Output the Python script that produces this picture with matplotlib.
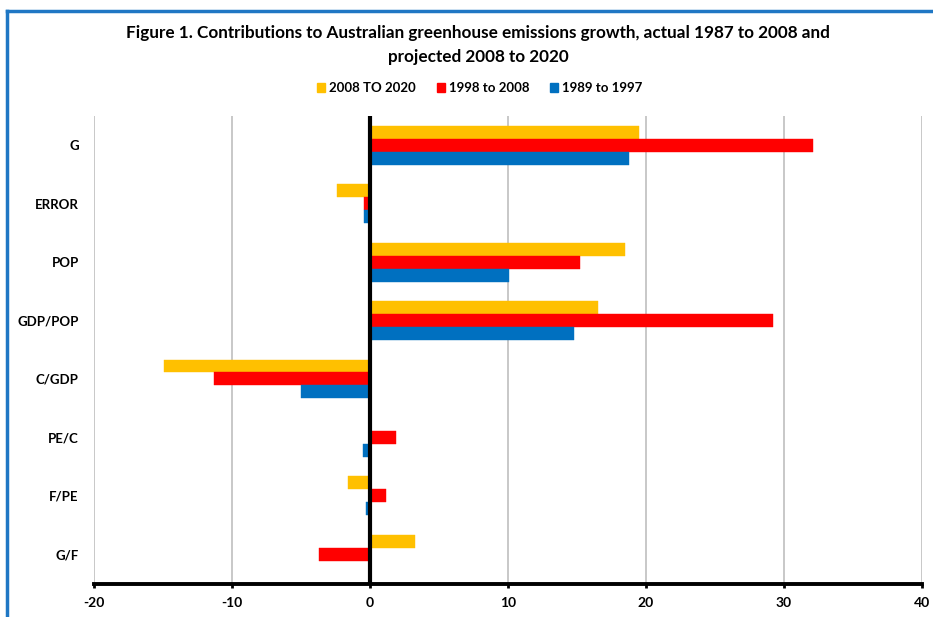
import matplotlib
matplotlib.use("Agg")
import matplotlib.pyplot as plt
from matplotlib.lines import Line2D
from matplotlib.patches import Patch
import numpy as np

categories = ["G", "ERROR", "POP", "GDP/POP", "C/GDP", "PE/C", "F/PE", "G/F"]
series_names = ["2008 TO 2020", "1998 to 2008", "1989 to 1997"]
s2008_2020 = [19.5, -2.4, 18.5, 16.5, -14.9, 0.0, -1.6, 3.3]
s1998_2008 = [32.1, -0.4, 15.2, 29.2, -11.3, 1.9, 1.2, -3.7]
s1989_1997 = [18.8, -0.4, 10.1, 14.8, -5.0, -0.5, -0.3, 0.0]
colors = ["#FFC000", "#FF0000", "#0070C0"]
xticks = [-20, -10, 0, 10, 20, 30, 40]

FONT = ["Lato", "DejaVu Sans"]
plt.rcParams['font.family'] = FONT

fig = plt.figure(figsize=(9.33, 6.17), dpi=100)
ax = fig.add_axes([94/933, 1-583.5/617, (921.7-94)/933, (583.5-116)/617])

y = np.arange(len(categories))
h = 0.222
for k, (vals, col) in enumerate(zip([s2008_2020, s1998_2008, s1989_1997], colors)):
    ax.barh(y + (k-1)*h, vals, height=h, color=col, edgecolor=col, linewidth=0.3, zorder=3)

ax.set_xlim(-20, 40)
ax.set_ylim(len(categories)-0.5, -0.5)
ax.set_xticks(xticks)
ax.set_xticklabels([str(t) for t in xticks], fontsize=10, fontweight='bold')
ax.set_yticks(y)
ax.set_yticklabels(categories, fontsize=9.5, fontweight='bold')
ax.tick_params(axis='y', length=0, pad=11)
ax.tick_params(axis='x', direction='out', length=3, width=2, pad=7, color='black')
ax.grid(axis='x', color='#BFBFBF', linewidth=1.2, zorder=0)
ax.set_axisbelow(True)
for s in ['top', 'right', 'left']:
    ax.spines[s].set_visible(False)
ax.spines['bottom'].set_linewidth(2.8)
ax.spines['bottom'].set_color('black')
ax.axvline(0, color='black', linewidth=3, zorder=4)

fig.text(478/933, 1-33/617, "Figure 1. Contributions to Australian greenhouse emissions growth, actual 1987 to 2008 and",
         ha='center', va='center', fontsize=12.3, fontweight='bold')
fig.text(478/933, 1-57/617, "projected 2008 to 2020",
         ha='center', va='center', fontsize=12.3, fontweight='bold')

handles = [Patch(facecolor=c, edgecolor=c) for c in colors]
leg = fig.legend(handles, series_names, loc='center', bbox_to_anchor=(480/933, 1-88/617), ncol=3,
                 frameon=False, handlelength=0.6, handleheight=0.6, handletextpad=0.3,
                 columnspacing=1.6, prop={'size': 9.5, 'weight': 'bold', 'family': FONT})

fig.add_artist(Line2D([6.5/933, 1.0], [1-11/617, 1-11/617], transform=fig.transFigure, color='#1F77C4', linewidth=2.5))
fig.add_artist(Line2D([6.5/933, 6.5/933], [1-11/617, 0], transform=fig.transFigure, color='#1F77C4', linewidth=2.5))

fig.savefig("out.png", dpi=100)
